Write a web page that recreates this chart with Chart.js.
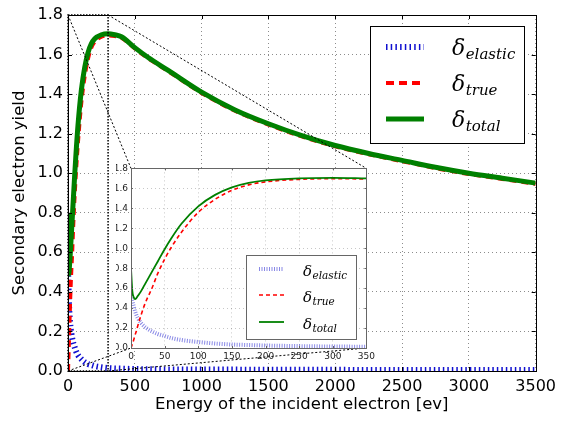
<!DOCTYPE html>
<html lang="en">
<head>
  <meta charset="UTF-8" />
  <title>Secondary electron yield</title>
  <script src="https://cdn.jsdelivr.net/npm/chart.js@4.4.1/dist/chart.umd.min.js"></script>
  <style>
    html, body { margin: 0; padding: 0; background: #fff; }
    #wrap { position: relative; width: 562px; height: 421px; overflow: hidden; }
    #mainChart { position: absolute; left: 0; top: 0; }
    #insetChart { position: absolute; left: 116px; top: 160px; }
  </style>
</head>
<body>
  <div id="wrap">
    <canvas id="mainChart" width="562" height="421"></canvas>
    <canvas id="insetChart" width="262" height="205"></canvas>
  </div>

  <script>
    // values
    const energy = [0, 2, 4, 6, 8, 10, 15, 20, 25, 30, 40, 50, 60, 75, 100, 125, 150, 175, 200, 250, 300, 350,
                    400, 500, 600, 750, 1000, 1250, 1500, 1750, 2000, 2250, 2500, 2750, 3000, 3250, 3500];
    const deltaElastic = [0.53, 0.47, 0.42, 0.37, 0.33, 0.30, 0.25, 0.215, 0.19, 0.17, 0.14, 0.12, 0.10, 0.08, 0.06, 0.045, 0.035, 0.03, 0.025, 0.019, 0.015, 0.013,
                          0.012, 0.010, 0.009, 0.008, 0.007, 0.007, 0.006, 0.006, 0.006, 0.005, 0.005, 0.005, 0.005, 0.005, 0.005];
    const deltaTrue = [0, 0.04, 0.08, 0.13, 0.17, 0.22, 0.33, 0.43, 0.51, 0.58, 0.75, 0.89, 1.01, 1.16, 1.36, 1.49, 1.58, 1.635, 1.665, 1.69, 1.697, 1.694,
                       1.685, 1.631, 1.581, 1.516, 1.406, 1.316, 1.246, 1.186, 1.136, 1.096, 1.061, 1.026, 0.996, 0.971, 0.946];
    const deltaTotal = [0.80, 0.57, 0.51, 0.49, 0.50, 0.52, 0.57, 0.63, 0.69, 0.75, 0.87, 0.99, 1.10, 1.245, 1.42, 1.535, 1.61, 1.655, 1.68, 1.70, 1.705, 1.70,
                        1.69, 1.635, 1.585, 1.52, 1.41, 1.32, 1.25, 1.19, 1.14, 1.10, 1.065, 1.03, 1.00, 0.975, 0.95];

    const mainXTicks = [0, 500, 1000, 1500, 2000, 2500, 3000, 3500];
    const insetXTicks = [0, 50, 100, 150, 200, 250, 300, 350];
    const yTicks = [0, 0.2, 0.4, 0.6, 0.8, 1.0, 1.2, 1.4, 1.6, 1.8];
    const zoomBox = [0, 300];
    const seriesNames = ['elastic', 'true', 'total'];

    function points(values, maxE) {
      const pts = [];
      energy.forEach((e, i) => {
        if (maxE === undefined || e <= maxE) pts.push({ x: e, y: values[i] });
      });
      return pts;
    }

    // inward tick marks on all four sides + frame
    function drawFrame(chart, color, len) {
      const ctx = chart.ctx, a = chart.chartArea;
      const xs = chart.scales.x, ys = chart.scales.y;
      ctx.save();
      ctx.strokeStyle = color;
      ctx.lineWidth = 1;
      ctx.setLineDash([]);
      ctx.beginPath();
      xs.ticks.forEach(t => {
        const px = Math.round(xs.getPixelForValue(t.value)) + 0.5;
        ctx.moveTo(px, a.bottom); ctx.lineTo(px, a.bottom - len);
        ctx.moveTo(px, a.top); ctx.lineTo(px, a.top + len);
      });
      ys.ticks.forEach(t => {
        const py = Math.round(ys.getPixelForValue(t.value)) + 0.5;
        ctx.moveTo(a.left, py); ctx.lineTo(a.left + len, py);
        ctx.moveTo(a.right, py); ctx.lineTo(a.right - len, py);
      });
      ctx.stroke();
      ctx.strokeRect(Math.round(a.left) + 0.5, Math.round(a.top) + 0.5,
                     Math.round(a.right - a.left), Math.round(a.bottom - a.top));
      ctx.restore();
    }

    // legend with δ and italic subscript, drawn by hand
    function drawLegend(chart, o) {
      const ctx = chart.ctx;
      const sets = chart.data.datasets;
      ctx.save();
      ctx.fillStyle = '#fff';
      ctx.fillRect(o.x, o.y, o.w, o.h);
      ctx.strokeStyle = o.border;
      ctx.lineWidth = 1;
      ctx.setLineDash([]);
      ctx.strokeRect(o.x + 0.5, o.y + 0.5, o.w, o.h);
      seriesNames.forEach((name, i) => {
        const ds = sets.find(d => d.label === name);
        const cy = o.y + o.rows[i];
        ctx.beginPath();
        ctx.strokeStyle = ds.borderColor;
        ctx.lineWidth = o.lineWidths[i];
        ctx.setLineDash(o.dashes[i]);
        ctx.lineCap = 'butt';
        ctx.moveTo(o.x + o.line[0], cy);
        ctx.lineTo(o.x + o.line[1], cy);
        ctx.stroke();
        ctx.setLineDash([]);
        ctx.fillStyle = '#000';
        ctx.textBaseline = 'alphabetic';
        ctx.textAlign = 'left';
        ctx.font = 'italic ' + o.big + 'px "DejaVu Serif"';
        const tx = o.x + o.textX;
        ctx.fillText('δ', tx, cy + o.base);
        const dw = ctx.measureText('δ').width;
        ctx.font = 'italic ' + o.small + 'px "DejaVu Serif"';
        ctx.fillText(name, tx + dw + 0.5, cy + o.subBase);
      });
      ctx.restore();
    }

    function baseScales(xTicks, fontSize, tickColor) {
      return {
        x: {
          type: 'linear',
          min: xTicks[0],
          max: xTicks[xTicks.length - 1],
          afterBuildTicks: s => { s.ticks = xTicks.map(v => ({ value: v })); },
          ticks: { color: tickColor, font: { family: 'DejaVu Sans', size: fontSize }, maxRotation: 0, autoSkip: false,
                   callback: v => String(v) },
          grid: { color: 'rgba(0,0,0,0.45)', drawTicks: false, lineWidth: 1 },
          border: { display: false, dash: [1, 3] }
        },
        y: {
          type: 'linear',
          min: yTicks[0],
          max: yTicks[yTicks.length - 1],
          afterBuildTicks: s => { s.ticks = yTicks.map(v => ({ value: v })); },
          ticks: { color: tickColor, font: { family: 'DejaVu Sans', size: fontSize }, autoSkip: false,
                   callback: v => v.toFixed(1) },
          grid: { color: 'rgba(0,0,0,0.45)', drawTicks: false, lineWidth: 1 },
          border: { display: false, dash: [1, 3] }
        }
      };
    }

    // ---------- inset (0-350 eV) ----------
    const insetCanvas = document.getElementById('insetChart');
    const insetScales = baseScales(insetXTicks, 9, '#222');
    insetScales.x.afterFit = s => { s.height = 17; };
    insetScales.x.ticks.padding = 3;
    insetScales.y.afterFit = s => { s.width = 15; };
    insetScales.y.ticks.padding = 3;
    insetScales.x.grid.color = 'rgba(0,0,0,0.22)';
    insetScales.y.grid.color = 'rgba(0,0,0,0.22)';

    const insetChart = new Chart(insetCanvas, {
      type: 'line',
      data: {
        datasets: [
          { label: 'total', data: points(deltaTotal, 350), borderColor: '#008000', borderWidth: 1.8, order: 0 },
          { label: 'true', data: points(deltaTrue, 350), borderColor: '#ff0000', borderWidth: 1.6, borderDash: [4, 3], order: 1 },
          { label: 'elastic', data: points(deltaElastic, 350), borderColor: 'rgba(40,40,210,0.55)', borderWidth: 4, borderDash: [1, 1.5], borderCapStyle: 'butt', order: 2 }
        ]
      },
      options: {
        responsive: false,
        animation: false,
        devicePixelRatio: 1,
        datasets: { line: { pointRadius: 0, cubicInterpolationMode: 'monotone', fill: false, clip: 0 } },
        layout: { padding: { left: 0, top: 5, right: 9, bottom: 0 } },
        scales: insetScales,
        plugins: { legend: { display: false }, tooltip: { enabled: false } }
      },
      plugins: [{
        id: 'insetDecor',
        beforeDraw(chart) {
          const a = chart.chartArea;
          chart.ctx.save();
          chart.ctx.fillStyle = '#fff';
          chart.ctx.fillRect(a.left, a.top, a.right - a.left, a.bottom - a.top);
          chart.ctx.restore();
        },
        afterDraw(chart) {
          drawFrame(chart, '#666', 2);
          const a = chart.chartArea;
          drawLegend(chart, {
            x: Math.round(a.right - 120), y: Math.round(a.bottom - 93), w: 110, h: 84,
            border: '#666',
            rows: [14, 40, 67],
            line: [13, 38],
            textX: 57,
            big: 15, small: 10.5, base: 7, subBase: 9.5,
            lineWidths: [4, 1.6, 1.8],
            dashes: [[1, 1.5], [4, 3], []]
          });
        }
      }]
    });

    // ---------- main chart ----------
    const mainCanvas = document.getElementById('mainChart');
    const mainScales = baseScales(mainXTicks, 16, '#000');
    mainScales.x.afterFit = s => { s.height = 50; };
    mainScales.x.ticks.padding = 6;
    mainScales.x.title = { display: true, text: 'Energy of the incident electron [ev]', color: '#000',
                           font: { family: 'DejaVu Sans', size: 16.5 }, padding: { top: 0, bottom: 6 } };
    mainScales.y.afterFit = s => { s.width = 68; };
    mainScales.y.ticks.padding = 5;
    mainScales.y.title = { display: true, text: 'Secondary electron yield', color: '#000',
                           font: { family: 'DejaVu Sans', size: 16.5 }, padding: { top: 10, bottom: 0 } };

    new Chart(mainCanvas, {
      type: 'line',
      data: {
        datasets: [
          { label: 'total', data: points(deltaTotal), borderColor: '#008000', borderWidth: 5, order: 0 },
          { label: 'true', data: points(deltaTrue), borderColor: '#ff0000', borderWidth: 4, borderDash: [7, 5], order: 1 },
          { label: 'elastic', data: points(deltaElastic), borderColor: '#1010d0', borderWidth: 6, borderDash: [1.5, 3], borderCapStyle: 'butt', order: 2 }
        ]
      },
      options: {
        responsive: false,
        animation: false,
        devicePixelRatio: 1,
        datasets: { line: { pointRadius: 0, cubicInterpolationMode: 'monotone', fill: false, clip: 0 } },
        layout: { padding: { left: 0, top: 15, right: 25, bottom: 0 } },
        scales: mainScales,
        plugins: { legend: { display: false }, tooltip: { enabled: false } }
      },
      plugins: [{
        id: 'mainDecor',
        afterDatasetsDraw(chart) {
          // zoom rectangle and connectors to the inset
          const ctx = chart.ctx, xs = chart.scales.x, ys = chart.scales.y;
          const x0 = xs.getPixelForValue(zoomBox[0]), x1 = xs.getPixelForValue(zoomBox[1]);
          const yT = ys.getPixelForValue(yTicks[yTicks.length - 1]), yB = ys.getPixelForValue(yTicks[0]);
          const ia = insetChart.chartArea;
          const ox = insetCanvas.offsetLeft - mainCanvas.offsetLeft;
          const oy = insetCanvas.offsetTop - mainCanvas.offsetTop;
          ctx.save();
          ctx.strokeStyle = '#000';
          ctx.lineWidth = 1.5;
          ctx.setLineDash([1.5, 1.5]);
          ctx.strokeRect(x0, yT, x1 - x0, yB - yT);
          ctx.lineWidth = 1;
          ctx.setLineDash([2, 2]);
          ctx.beginPath();
          ctx.moveTo(x0, yT); ctx.lineTo(ia.left + ox, ia.top + oy);
          ctx.moveTo(x1, yT); ctx.lineTo(ia.right + ox, ia.top + oy);
          ctx.moveTo(x0, yB); ctx.lineTo(ia.left + ox, ia.bottom + oy);
          ctx.moveTo(x1, yB); ctx.lineTo(ia.right + ox, ia.bottom + oy);
          ctx.stroke();
          ctx.restore();
        },
        afterDraw(chart) {
          drawFrame(chart, '#000', 4);
          const a = chart.chartArea;
          drawLegend(chart, {
            x: Math.round(a.right - 166), y: Math.round(a.top + 11), w: 154, h: 117,
            border: '#000',
            rows: [21, 57, 93],
            line: [16, 54],
            textX: 82,
            big: 22, small: 15, base: 8, subBase: 12,
            lineWidths: [6, 4, 5],
            dashes: [[1.5, 3.2], [8, 5], []]
          });
        }
      }]
    });
  </script>
</body>
</html>
